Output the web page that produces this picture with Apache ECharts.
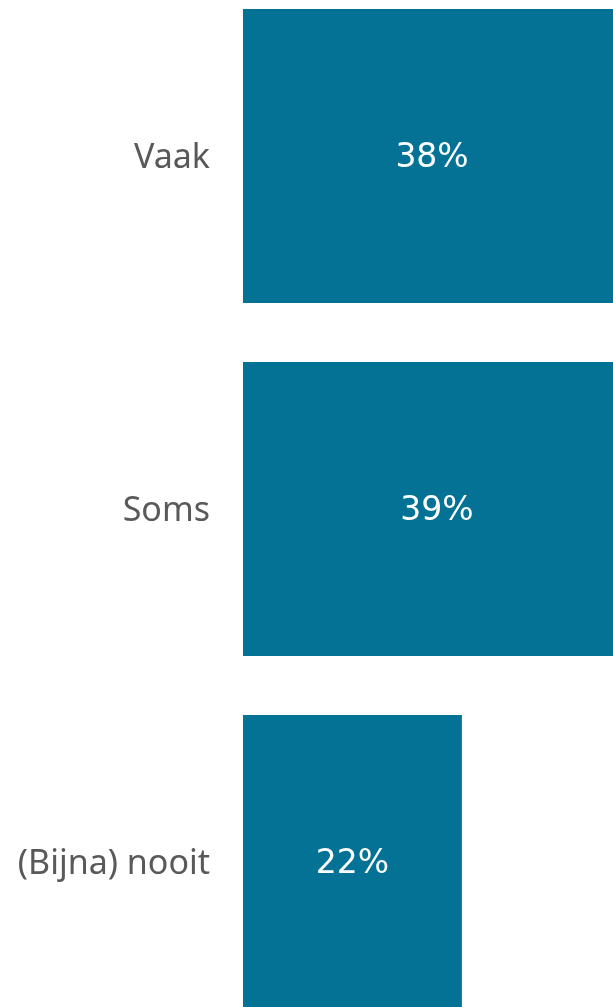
<!DOCTYPE html>
<html>
<head>
<meta charset="utf-8">
<script src="https://cdn.jsdelivr.net/npm/echarts@6/dist/echarts.min.js"></script>
<style>
html,body{margin:0;padding:0;background:#fff;}
#c{width:613px;height:1007px;}
</style>
</head>
<body>
<div id="c"></div>
<script>
const categories = ['Vaak', 'Soms', '(Bijna) nooit'];
const values = [38, 39, 22];

const chart = echarts.init(document.getElementById('c'), null, {renderer: 'canvas'});
chart.setOption({
  animation: false,
  grid: {left: 243, top: -20.5, width: 398, height: 1059, containLabel: false, outerBoundsMode: 'none'},
  xAxis: {type: 'value', min: 0, max: 40, show: false},
  yAxis: {
    type: 'category', data: categories, inverse: true,
    axisLine: {show: false}, axisTick: {show: false},
    axisLabel: {
      color: '#595959', margin: 33,
      formatter: v => '{a|' + v + '}',
      rich: {a: {fontSize: 34, fontFamily: 'Noto Sans', color: '#595959', padding: [4, 0, 0, 0]}}
    }
  },
  series: [{
    type: 'bar', data: values, barWidth: 294,
    itemStyle: {color: '#037294'},
    label: {show: true, position: 'inside', color: '#fff', fontSize: 33, fontFamily: 'DejaVu Sans',
      offset: [0, 2], formatter: p => p.value + '%'}
  }]
});
</script>
</body>
</html>
